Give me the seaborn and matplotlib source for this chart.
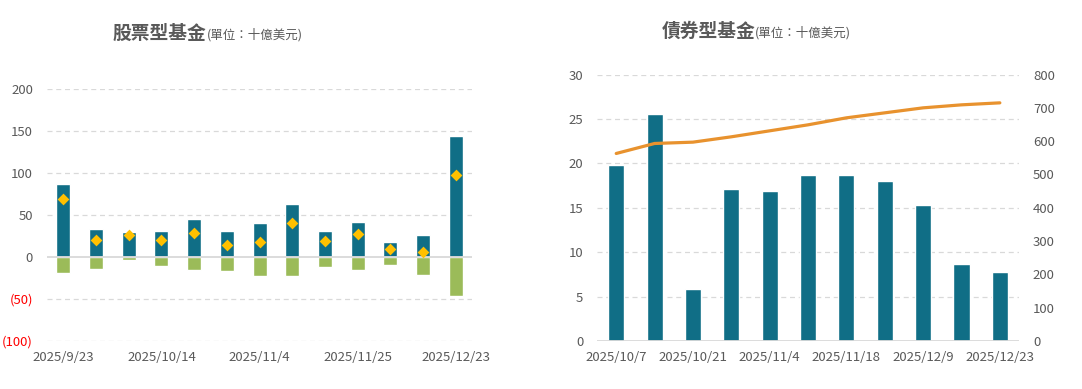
import seaborn as sns
import matplotlib.pyplot as plt
from matplotlib.ticker import FuncFormatter

# Dados dos dois graficos
datas_acoes = ['2025/9/23', '2025/9/30', '2025/10/7', '2025/10/14', '2025/10/21', '2025/10/28',
               '2025/11/4', '2025/11/11', '2025/11/18', '2025/11/25', '2025/12/9', '2025/12/16',
               '2025/12/23']
entrada_acoes = [87, 33, 30, 31, 45, 31, 41, 63, 31, 42, 18, 26, 144]
saida_acoes = [-19, -14, -4, -11, -16, -17, -23, -23, -12, -16, -10, -21, -46]
liquido_acoes = [69, 20, 26, 20, 28, 14, 18, 40, 19, 27, 9, 6, 98]

datas_titulos = ['2025/10/7', '2025/10/14', '2025/10/21', '2025/10/28', '2025/11/4', '2025/11/11',
                 '2025/11/18', '2025/11/25', '2025/12/9', '2025/12/16', '2025/12/23']
fluxo_titulos = [19.8, 25.6, 5.8, 17.1, 16.9, 18.7, 18.7, 18.0, 15.3, 8.7, 7.8]
acumulado_titulos = [563, 593, 597, 613, 631, 649, 670, 685, 700, 709, 715]

sns.set_theme(style='white')
plt.rcParams['font.family'] = ['Noto Sans CJK TC', 'DejaVu Sans']

AZUL = '#106E86'
VERDE = '#9BBB59'
OURO = '#FFC000'
LARANJA = '#E8922E'
CINZA = '#595959'
GRADE = '#D9D9D9'

fig = plt.figure(figsize=(10.82, 3.89), dpi=100)

# Grafico de acoes
ax1 = fig.add_axes([0.0434, 0.1234, 0.393, 0.648])
sns.barplot(x=datas_acoes, y=entrada_acoes, order=datas_acoes, color=AZUL, saturation=1,
            width=0.43, ax=ax1)
sns.barplot(x=datas_acoes, y=saida_acoes, order=datas_acoes, color=VERDE, saturation=1,
            width=0.43, ax=ax1)
sns.stripplot(x=datas_acoes, y=liquido_acoes, order=datas_acoes, jitter=False, marker='D',
              color=OURO, size=6, linewidth=0, ax=ax1, zorder=5)
ax1.set_ylim(-100, 200)
ax1.set_xlim(-0.5, 12.5)
ax1.set_yticks([-100, -50, 0, 50, 100, 150, 200])
ax1.yaxis.set_major_formatter(FuncFormatter(lambda v, p: f'({abs(int(v))})' if v < 0 else f'{int(v)}'))
ax1.set_xticks([0, 3, 6, 9, 12])
ax1.set_xticklabels([datas_acoes[i] for i in [0, 3, 6, 9, 12]])
for v in [-100, -50, 50, 100, 150, 200]:
    ax1.axhline(v, color=GRADE, lw=0.9, ls=(0, (4, 3)), zorder=0)
ax1.axhline(0, color=GRADE, lw=1.3, zorder=4)

# Grafico de titulos
ax2 = fig.add_axes([0.5518, 0.1234, 0.390, 0.685])
sns.barplot(x=datas_titulos, y=fluxo_titulos, order=datas_titulos, color=AZUL, saturation=1,
            width=0.42, ax=ax2)
ax2.set_ylim(0, 30)
ax2.set_xlim(-0.5, 10.5)
ax2.set_yticks(range(0, 31, 5))
ax2.set_xticks([0, 2, 4, 6, 8, 10])
ax2.set_xticklabels([datas_titulos[i] for i in [0, 2, 4, 6, 8, 10]])
for v in range(5, 31, 5):
    ax2.axhline(v, color=GRADE, lw=0.9, ls=(0, (4, 3)), zorder=0)
ax2.axhline(0, color=GRADE, lw=1.3, zorder=4)

ax3 = ax2.twinx()
sns.lineplot(x=list(range(len(datas_titulos))), y=acumulado_titulos, color=LARANJA, lw=2.3, ax=ax3)
ax3.set_ylim(0, 800)
ax3.set_yticks(range(0, 801, 100))
ax3.set_xlim(-0.5, 10.5)

for ax in [ax1, ax2, ax3]:
    ax.set_xlabel('')
    ax.set_ylabel('')
    for s in ax.spines.values():
        s.set_visible(False)
    ax.tick_params(axis='x', length=0, labelsize=9.5, labelcolor=CINZA, pad=7)
    ax.tick_params(axis='y', length=0, labelsize=9.5, labelcolor=CINZA, pad=10)
for t in ax1.get_yticklabels():
    if t.get_text().startswith('('):
        t.set_color('red')

# Titulos
fig.text(0.191, 0.915, '股票型基金', ha='right', va='center', fontsize=13.5, fontweight='bold', color=CINZA)
fig.text(0.191, 0.911, '(單位：十億美元)', ha='left', va='center', fontsize=9, color=CINZA)
fig.text(0.698, 0.920, '債券型基金', ha='right', va='center', fontsize=13.5, fontweight='bold', color=CINZA)
fig.text(0.698, 0.916, '(單位：十億美元)', ha='left', va='center', fontsize=9, color=CINZA)

plt.savefig('out.png', dpi=100)
